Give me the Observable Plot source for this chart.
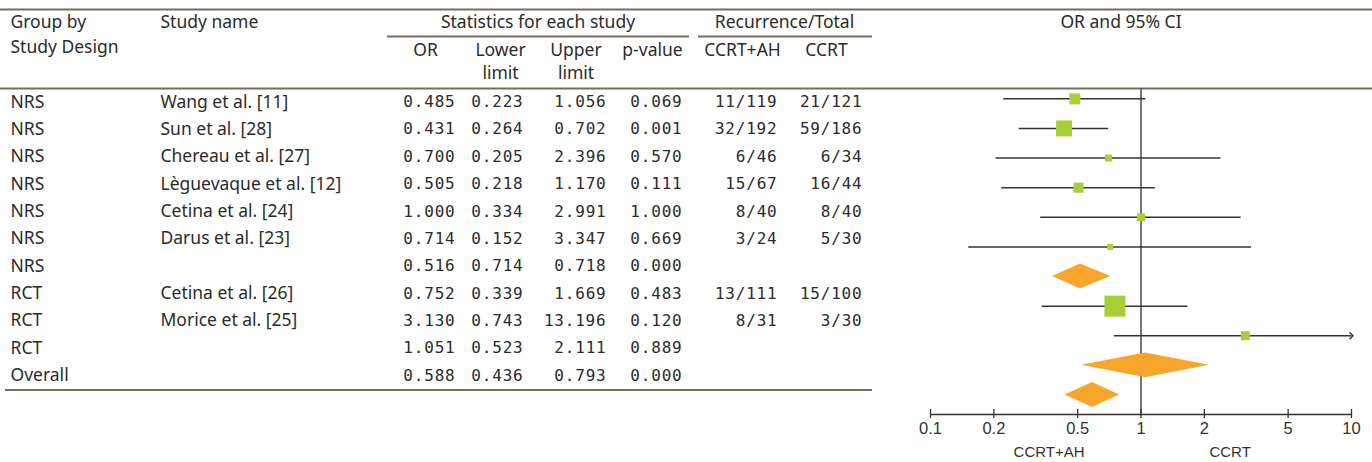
<!DOCTYPE html>
<html><head><meta charset="utf-8">
<script src="https://cdn.jsdelivr.net/npm/d3@7"></script>
<script src="https://cdn.jsdelivr.net/npm/@observablehq/plot@0.6"></script>
<style>
html,body{margin:0;padding:0;background:#fff;}
#chart{position:relative;width:1372px;height:462px;}
#chart svg{position:absolute;left:0;top:0;}
#chart g[font-family="DejaVu Sans Mono"] text{letter-spacing:0.8px;}
</style></head><body><div id="chart"></div>
<script>
// ---- data ----
const groups = ["NRS","NRS","NRS","NRS","NRS","NRS","NRS","RCT","RCT","RCT","Overall"];
const studyNames = ["Wang et al. [11]","Sun et al. [28]","Chereau et al. [27]","Lèguevaque et al. [12]","Cetina et al. [24]","Darus et al. [23]","","Cetina et al. [26]","Morice et al. [25]","",""];
const rowKinds = ["study","study","study","study","study","study","summary","study","study","summary","summary"];
const oddsRatios = [0.485,0.431,0.700,0.505,1.000,0.714,0.516,0.752,3.130,1.051,0.588];
const lowerLimits = [0.223,0.264,0.205,0.218,0.334,0.152,0.714,0.339,0.743,0.523,0.436];
const upperLimits = [1.056,0.702,2.396,1.170,2.991,3.347,0.718,1.669,13.196,2.111,0.793];
const pValues = [0.069,0.001,0.570,0.111,1.000,0.669,0.000,0.483,0.120,0.889,0.000];
const eventsAH = ["11/119","32/192","6/46","15/67","8/40","3/24","","13/111","8/31","",""];
const eventsCCRT = ["21/121","59/186","6/34","16/44","8/40","5/30","","15/100","3/30","",""];
// relative study weights (box size)
const weights = [10.5,22.3,4.3,8.7,5.6,3.1,0,38.4,7.1,0,0];
// the NRS diamond is drawn from ~0.38 (table prints 0.714 as its lower limit)
const drawnLowerLimits = lowerLimits.map((v,i)=> i===6 ? 0.38 : v);
const xTicks = [0.1,0.2,0.5,1,2,5,10];
const sideLabels = [{text:"CCRT+AH", at:0.366},{text:"CCRT", at:2.65}];

const rows = groups.map((g,i)=>({i, group:g, study:studyNames[i], kind:rowKinds[i],
  or:oddsRatios[i], lo:lowerLimits[i], hi:upperLimits[i], dlo:drawnLowerLimits[i],
  p:pValues[i], ah:eventsAH[i], cc:eventsCCRT[i], w:weights[i]}));
const studies = rows.filter(d=>d.kind==="study");
const summaries = rows.filter(d=>d.kind==="summary");

// ---- layout / style ----
const W = 1372, H = 462;
const textFont = "Noto Sans", numFont = "DejaVu Sans Mono";
const ink = "#2b2b2b", ruleColor = "#766d60";
const textSize = 17.5, numSize = 16;
const f3 = v => v.toFixed(3);
const cols = [
  {get:d=>d.group, x:10, anchor:"start", font:textFont},
  {get:d=>d.study, x:160, anchor:"start", font:textFont},
  {get:d=>f3(d.or), x:455, anchor:"end", font:numFont},
  {get:d=>f3(d.lo), x:523, anchor:"end", font:numFont},
  {get:d=>f3(d.hi), x:606, anchor:"end", font:numFont},
  {get:d=>f3(d.p), x:682, anchor:"end", font:numFont},
  {get:d=>d.ah, x:777, anchor:"end", font:numFont},
  {get:d=>d.cc, x:862, anchor:"end", font:numFont}
];
// header cells: row offsets in table-row units
const headers = [
  {t:"Group by", x:10, a:"start", r:-2.9},
  {t:"Study Design", x:10, a:"start", r:-1.98},
  {t:"Study name", x:160, a:"start", r:-2.9},
  {t:"Statistics for each study", x:537.5, a:"middle", r:-2.9},
  {t:"Recurrence/Total", x:784, a:"middle", r:-2.9},
  {t:"OR and 95% CI", x:1120.5, a:"middle", r:-2.9},
  {t:"OR", x:425, a:"middle", r:-1.9},
  {t:"Lower", x:500, a:"middle", r:-1.9},
  {t:"limit", x:500, a:"middle", r:-1.05},
  {t:"Upper", x:575.5, a:"middle", r:-1.9},
  {t:"limit", x:575.5, a:"middle", r:-1.05},
  {t:"p-value", x:652, a:"middle", r:-1.9},
  {t:"CCRT+AH", x:742, a:"middle", r:-1.9},
  {t:"CCRT", x:826, a:"middle", r:-1.9}
];
const tableRules = [
  {x1:0, x2:W, r:-3.382},
  {x1:0, x2:W, r:-0.494},
  {x1:387, x2:689, r:-2.395},
  {x1:698, x2:872, r:-2.395},
  {x1:5, x2:872, r:10.53}
];

const table = Plot.plot({
  width: W, height: H, margin: 0,
  x: {type: "identity", axis: null},
  y: {domain: [0, 10], range: [101.5, 375], axis: null},
  style: {background: "transparent"},
  marks: [
    Plot.ruleY(tableRules, {y:"r", x1:"x1", x2:"x2", stroke: ruleColor, strokeWidth: 2.2}),
    ...["start","middle"].map(a => Plot.text(headers.filter(h=>h.a===a), {x:"x", y:"r", text:"t", textAnchor:a, fontFamily:textFont, fontSize:textSize, fill:ink})),
    ...cols.map(c => Plot.text(rows, {x:()=>c.x, y:"i", text:c.get, textAnchor:c.anchor, fontFamily:c.font, fontSize:c.font===numFont?numSize:textSize, fill:ink}))
  ]
});

// diamond outline points for summaries
const halfH = 0.42;
const diamondPts = summaries.flatMap(d => [
  {row:d.i, x:d.dlo, y1:d.i, y2:d.i},
  {row:d.i, x:d.or, y1:d.i-halfH, y2:d.i+halfH},
  {row:d.i, x:d.hi, y1:d.i, y2:d.i}
]);
const xDomain = [0.1, 10];
const yDomain = [-0.35, 10.66]; // rows 0..10, frame padded top and bottom

const forest = Plot.plot({
  width: W, height: H, marginLeft: 930, marginRight: 21, marginTop: 88, marginBottom: 48,
  x: {type: "log", domain: xDomain, axis: null},
  y: {domain: yDomain, reverse: true, axis: null},
  r: {type: "sqrt", domain: [0, 40], range: [0, 12.1]},
  style: {background: "transparent", fontFamily: "Liberation Sans", color: "#333"},
  marks: [
    Plot.ruleX([1], {stroke: "#555", strokeWidth: 1.6}),
    Plot.ruleY(studies.filter(d=>d.hi<=xDomain[1]), {y:"i", x1:"lo", x2:"hi", stroke:"#333", strokeWidth:1.5}),
    Plot.link(studies.filter(d=>d.hi>xDomain[1]), {x1:"lo", x2:()=>xDomain[1], y1:"i", y2:"i", stroke:"#333", strokeWidth:1.5, markerEnd:"arrow"}),
    Plot.dot(studies, {x:"or", y:"i", r:"w", symbol:"square", fill:"#a8cf38", stroke:null}),
    Plot.area(diamondPts, {x1:"x", y1:"y1", y2:"y2", z:"row", fill:"#f7a52b"}),
    Plot.ruleY([yDomain[1]], {stroke: "#333", strokeWidth: 1.3}),
    Plot.axisX({ticks: xTicks, tickFormat: ()=>"", tickSize: 9, dy: -5, stroke: "#333", strokeWidth: 1.3, label: null}),
    Plot.text(xTicks, {x: d=>d, text: d=>String(d), frameAnchor:"bottom", dy:19, fontSize:16.5, fill:"#333"}),
    Plot.text(sideLabels, {x:"at", text:"text", frameAnchor:"bottom", dy:42, fontSize:15, fill:"#333"})
  ]
});

const el = document.getElementById("chart");
el.appendChild(table);
el.appendChild(forest);
</script></body></html>
